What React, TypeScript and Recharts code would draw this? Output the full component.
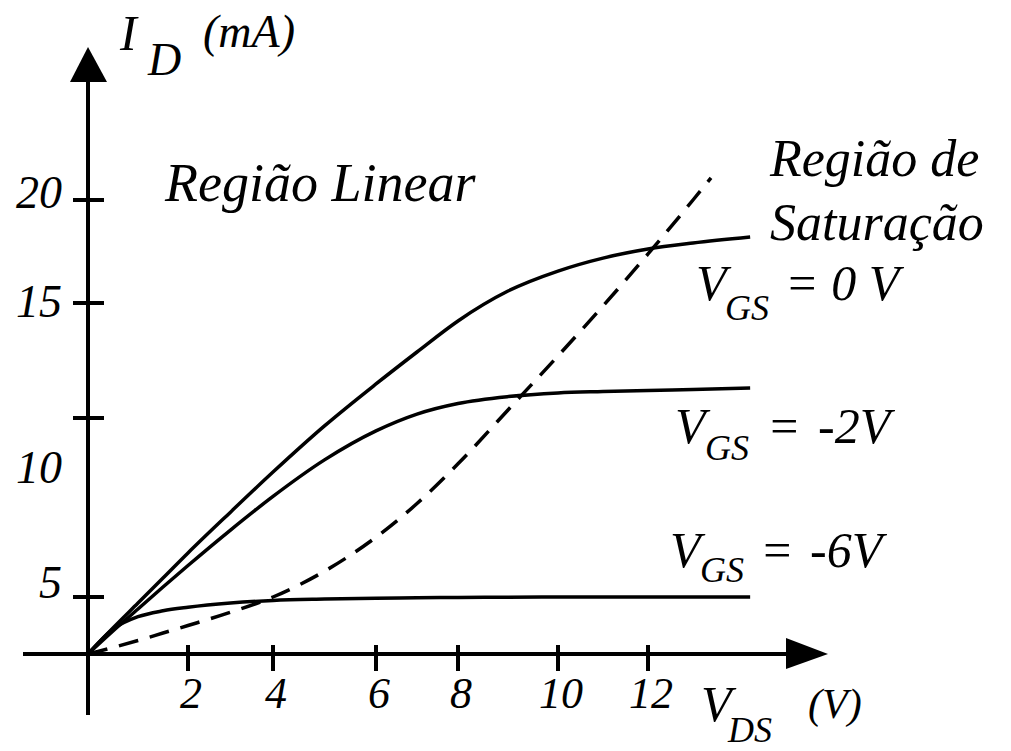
import React from 'react';
import { LineChart, Line, XAxis, YAxis, ReferenceLine, ReferenceDot } from 'recharts';

// Drain-source voltage samples (V)
const vdsSolid = [0, 0.5, 1, 1.5, 2, 3, 4, 5, 6, 7, 8, 9, 10, 11, 12, 13, 14.27];
// Drain current (mA) for each gate-source voltage
const idVgs0 = [0, 2.28, 4.47, 5.53, 6.23, 7.37, 8.49, 9.78, 11.48, 12.87, 14.22, 15.58, 16.55, 17.18, 17.62, 17.91, 18.2];
const idVgsM2 = [0, 2.02, 3.95, 5.28, 5.88, 6.87, 7.81, 8.83, 9.64, 10.17, 10.63, 10.93, 11.09, 11.15, 11.2, 11.24, 11.3];
const idVgsM6 = [0, 2.19, 3.27, 3.79, 4.1, 4.47, 4.7, 4.82, 4.9, 4.93, 4.96, 4.98, 5.0, 5.0, 5.0, 5.0, 5.0];
// Boundary between the linear and saturation regions
const vdsBoundary = [0, 0.5, 1, 1.5, 2, 3, 4, 5, 6, 7, 8, 9, 10, 11, 12, 13, 13.4];
const idBoundary = [0, 0.57, 1.18, 1.84, 2.5, 3.66, 5.0, 5.72, 6.67, 7.61, 8.72, 10.35, 12.7, 14.87, 17.38, 20.0, 21.07];

// Axis ticks
const vdsTicks = [2, 4, 6, 8, 10, 12];
const idTicks = [5, 10, 15, 20];

// Hand-drawn axis graduation: value -> nominal position along the axis
const xGraduation: [number, number][] = [
  [-1.4, 23], [0, 88], [2, 188], [4, 273], [6, 376], [8, 458], [10, 558], [12, 648], [16, 828],
];
const yGraduation: [number, number][] = [
  [-5.35, 715], [0, 654], [5, 597], [10, 418], [15, 303], [20, 200], [27.4, 47],
];

// Piecewise-linear scale with the d3 scale interface used by Recharts
function graduatedScale(stops: [number, number][]): any {
  const vs = stops.map((s) => s[0]);
  const ps = stops.map((s) => s[1]);
  const nominal = (v: number) => {
    let i = 0;
    if (v <= vs[0]) i = 0;
    else if (v >= vs[vs.length - 1]) i = vs.length - 2;
    else {
      while (i < vs.length - 2 && v > vs[i + 1]) i++;
    }
    const t = (v - vs[i]) / (vs[i + 1] - vs[i]);
    return ps[i] + t * (ps[i + 1] - ps[i]);
  };
  const make = (): any => {
    let dom: number[] = [vs[0], vs[vs.length - 1]];
    let rng: number[] = [0, 1];
    const s: any = (v: number) => {
      const n0 = nominal(dom[0]);
      const n1 = nominal(dom[dom.length - 1]);
      const r0 = rng[0];
      const r1 = rng[rng.length - 1];
      return r0 + ((nominal(v) - n0) / (n1 - n0)) * (r1 - r0);
    };
    s.domain = (d?: number[]) => {
      if (d === undefined) return dom.slice();
      dom = Array.from(d);
      return s;
    };
    s.range = (r?: number[]) => {
      if (r === undefined) return rng.slice();
      rng = Array.from(r);
      return s;
    };
    s.copy = () => make().domain(dom).range(rng);
    s.ticks = () => vs.filter((v) => v >= Math.min(...dom) && v <= Math.max(...dom));
    s.nice = () => s;
    s.clamp = () => s;
    return s;
  };
  return make();
}

const xScale = graduatedScale(xGraduation);
const yScale = graduatedScale(yGraduation);

const toPoints = (xs: number[], ys: number[]) => xs.map((vds, i) => ({ vds, id: ys[i] }));
const dataVgs0 = toPoints(vdsSolid, idVgs0);
const dataVgsM2 = toPoints(vdsSolid, idVgsM2);
const dataVgsM6 = toPoints(vdsSolid, idVgsM6);
const dataBoundary = toPoints(vdsBoundary, idBoundary);

const SERIF = '"Liberation Serif", "Times New Roman", serif';
const INK = '#000';

// Y tick label vertical nudges (the labels sit slightly off their marks)
const yLabelDy: Record<number, number> = { 5: 1, 10: 65, 15: 14, 20: 8 };

const XTick = (props: any) => {
  const { x, y, payload } = props;
  return (
    <g>
      <line x1={x} x2={x} y1={y - 9} y2={y + 17} stroke={INK} strokeWidth={4} />
      <text x={x + 3} y={y + 54} textAnchor="middle" fontFamily={SERIF} fontStyle="italic" fontSize={44} fill={INK}>
        {payload.value}
      </text>
    </g>
  );
};

const YTick = (props: any) => {
  const { x, y, payload } = props;
  return (
    <g>
      <line x1={x - 15} x2={x + 16} y1={y} y2={y} stroke={INK} strokeWidth={4} />
      <text x={x - 26} y={y + (yLabelDy[payload.value] ?? 14)} textAnchor="end" fontFamily={SERIF} fontStyle="italic" fontSize={46} fill={INK}>
        {payload.value}
      </text>
    </g>
  );
};

const XArrow = (props: any) => {
  const { cx, cy } = props;
  return <polygon points={`${cx},${cy} ${cx - 42},${cy - 16} ${cx - 42},${cy + 15}`} fill={INK} />;
};

const YArrow = (props: any) => {
  const { cx, cy } = props;
  return <polygon points={`${cx},${cy} ${cx - 18},${cy + 35} ${cx + 19},${cy + 35}`} fill={INK} />;
};

const t = { fontFamily: SERIF, fontStyle: 'italic' as const, fill: INK };

export default function App() {
  return (
    <div style={{ position: 'absolute', left: 0, top: 0, width: 1011, height: 751, background: '#fff' }}>
      <LineChart width={1011} height={751} margin={{ top: 47, right: 183, bottom: 96, left: 87 }}>
        <XAxis
          dataKey="vds"
          type="number"
          scale={xScale}
          domain={[0, 16]}
          allowDataOverflow
          ticks={vdsTicks}
          height={1}
          axisLine={false}
          tickLine={false}
          tickSize={0}
          tickMargin={0}
          tick={<XTick />}
          interval={0}
        />
        <YAxis
          dataKey="id"
          type="number"
          scale={yScale}
          domain={[0, 27.4]}
          allowDataOverflow
          ticks={idTicks}
          width={1}
          axisLine={false}
          tickLine={false}
          tickSize={0}
          tickMargin={0}
          tick={<YTick />}
          interval={0}
        />
        <ReferenceLine
          segment={[{ x: -1.4, y: 0 }, { x: 15.5, y: 0 }]}
          stroke={INK}
          strokeWidth={4}
          ifOverflow="visible"
        />
        <ReferenceLine
          segment={[{ x: 0, y: -5.35 }, { x: 0, y: 26 }]}
          stroke={INK}
          strokeWidth={4}
          ifOverflow="visible"
        />
        <ReferenceDot x={16} y={0} ifOverflow="visible" shape={<XArrow />} />
        <ReferenceDot x={0} y={27.4} ifOverflow="visible" shape={<YArrow />} />
        <Line data={dataBoundary} dataKey="id" type="monotone" stroke={INK} strokeWidth={3.5} strokeDasharray="20 12" dot={false} isAnimationActive={false} />
        <Line data={dataVgs0} dataKey="id" type="monotone" stroke={INK} strokeWidth={3.5} dot={false} isAnimationActive={false} />
        <Line data={dataVgsM2} dataKey="id" type="monotone" stroke={INK} strokeWidth={3.5} dot={false} isAnimationActive={false} />
        <Line data={dataVgsM6} dataKey="id" type="monotone" stroke={INK} strokeWidth={3.5} dot={false} isAnimationActive={false} />
      </LineChart>
      <svg width={1011} height={751} style={{ position: 'absolute', left: 0, top: 0, pointerEvents: 'none' }}>
        <text x={120} y={50} fontSize={50} {...t}>I</text>
        <text x={148} y={75} fontSize={46} {...t}>D</text>
        <text x={203} y={47} fontSize={46} {...t}>(mA)</text>

        <text x={165} y={201} fontSize={54} {...t}>Região Linear</text>
        <text x={770} y={176} fontSize={52} {...t}>Região de</text>
        <text x={770} y={240} fontSize={52} {...t}>Saturação</text>

        <text x={696} y={300} fontSize={50} {...t}>V</text>
        <text x={725} y={320} fontSize={36} {...t}>GS</text>
        <text x={785} y={300} fontSize={50} {...t}>= 0 V</text>

        <text x={675} y={443} fontSize={50} {...t}>V</text>
        <text x={705} y={460} fontSize={36} {...t}>GS</text>
        <text x={767} y={443} fontSize={50} {...t}>=</text>
        <text x={818} y={443} fontSize={50} {...t}>-2V</text>

        <text x={670} y={567} fontSize={50} {...t}>V</text>
        <text x={700} y={582} fontSize={36} {...t}>GS</text>
        <text x={760} y={567} fontSize={50} {...t}>=</text>
        <text x={810} y={567} fontSize={50} {...t}>-6V</text>

        <text x={701} y={721} fontSize={50} {...t}>V</text>
        <text x={728} y={742} fontSize={36} {...t}>DS</text>
        <text x={808} y={718} fontSize={42} {...t}>(V)</text>
      </svg>
    </div>
  );
}
